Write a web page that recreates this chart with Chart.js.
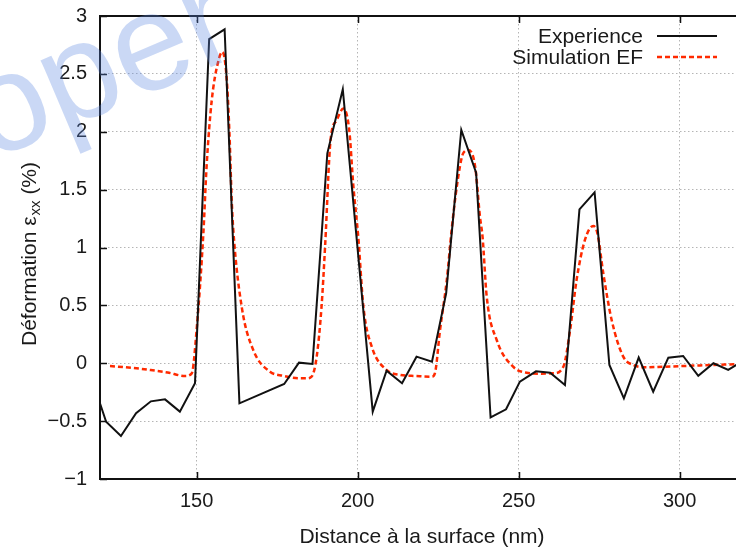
<!DOCTYPE html>
<html><head><meta charset="utf-8">
<script src="https://cdn.jsdelivr.net/npm/chart.js@4/dist/chart.umd.min.js"></script>
<style>
html,body{margin:0;padding:0;overflow:hidden;background:#fff;width:736px;height:548px}
#wrap{position:absolute;left:0;top:0;width:760px;height:548px}
</style>
</head><body><div id="wrap"><canvas id="c"></canvas></div>
<script>
// ---- data ----
const expX = [117.3,121.9,126.5,131.2,135.8,140.2,144.8,149.5,153.9,158.7,163.3,177.2,181.8,186.0,190.6,195.4,204.7,209.0,213.8,218.3,223.1,227.5,232.2,236.8,241.3,246.1,250.4,255.4,259.8,264.4,268.9,273.6,278.2,282.7,287.3,291.8,296.5,301.1,305.8,310.5,315.1,319.7];
const expY = [-0.12,-0.505,-0.628,-0.432,-0.329,-0.312,-0.418,-0.173,2.80,2.885,-0.346,-0.179,0.005,-0.006,1.814,2.367,-0.418,-0.064,-0.173,0.057,0.013,0.604,2.015,1.646,-0.467,-0.398,-0.159,-0.070,-0.082,-0.188,1.330,1.477,-0.015,-0.303,0.049,-0.246,0.048,0.063,-0.108,0.0,-0.058,0.02];
const simX = [123.1,130,135.5,141,146.4,148.5,150.0,152.1,153.1,154.7,156.7,158.0,159.3,160.2,160.9,161.4,164.0,167.6,172.8,176.9,182.1,184.2,185.7,187.3,188.8,189.9,191.6,193.5,195.6,197.4,198.7,200.2,201.8,204.4,209.0,213.2,218,223.0,224.0,225.6,227.7,229.2,230.8,232.8,234.4,236.5,238.0,238.8,240.1,243.2,248.3,252.5,257,260.8,263.9,266.0,268.0,270.6,273.2,274.5,276.3,278.9,282.5,285.6,289.7,295,301.1,310,317.5,322];
const simY = [-0.024,-0.04,-0.058,-0.08,-0.110,-0.087,0.287,1.123,1.70,2.27,2.605,2.69,2.476,1.987,1.41,1.15,0.489,0.114,-0.073,-0.108,-0.13,-0.130,-0.116,0.057,0.489,1.007,1.929,2.10,2.20,2.015,1.525,1.093,0.489,0.143,-0.058,-0.101,-0.11,-0.116,-0.087,0.287,0.719,1.15,1.525,1.814,1.842,1.70,1.266,1.093,0.575,0.201,-0.03,-0.082,-0.09,-0.087,-0.03,0.287,0.719,1.065,1.186,1.12,0.777,0.374,0.057,-0.015,-0.035,-0.03,-0.024,-0.015,-0.009,-0.005];
const xTicks = [150,200,250,300];
const yTicks = [-1,-0.5,0,0.5,1,1.5,2,2.5,3];
const seriesLabels = ['Experience','Simulation EF'];
const xTitle = 'Distance à la surface (nm)';
const yTitleParts = ['Déformation ε','xx',' (%)'];
const watermark = 'oper';

const FONT = '"Liberation Sans", Arial, sans-serif';
const TXT = '#1a1a1a';

const toPts = (xs, ys) => xs.map((x,i)=>({x, y: ys[i]}));

const framePlugin = {
  id: 'frame',
  beforeDatasetsDraw(chart){
    const {ctx, chartArea:a, scales:{x,y}} = chart;
    ctx.save();
    ctx.setLineDash([]);
    ctx.strokeStyle = '#111';
    ctx.lineWidth = 1.5;
    ctx.beginPath();
    xTicks.forEach(v=>{
      const px = Math.round(x.getPixelForValue(v))+0.5;
      ctx.moveTo(px,a.bottom); ctx.lineTo(px,a.bottom-7);
      ctx.moveTo(px,a.top); ctx.lineTo(px,a.top+7);
    });
    yTicks.forEach(v=>{
      const py = Math.round(y.getPixelForValue(v))+0.5;
      ctx.moveTo(a.left,py); ctx.lineTo(a.left+7,py);
      ctx.moveTo(a.right,py); ctx.lineTo(a.right-7,py);
    });
    ctx.stroke();
    ctx.lineWidth = 2;
    ctx.strokeRect(a.left, a.top, a.right-a.left, a.bottom-a.top);
    ctx.restore();
  },
  afterDatasetsDraw(chart){
    const {ctx, chartArea:a} = chart;
    ctx.save();
    ctx.font = '21px '+FONT;
    ctx.textAlign = 'right';
    ctx.textBaseline = 'middle';
    chart.data.datasets.forEach((ds,i)=>{
      const yy = a.top + 20 + i*21;
      ctx.fillStyle = TXT;
      ctx.fillText(ds.label, a.right-101, yy+1);
      ctx.strokeStyle = ds.borderColor;
      ctx.lineWidth = ds.borderWidth;
      ctx.setLineDash(ds.borderDash || []);
      ctx.beginPath();
      ctx.moveTo(a.right-87, yy); ctx.lineTo(a.right-27, yy);
      ctx.stroke();
    });
    ctx.restore();
  },
  afterDraw(chart){
    const {ctx, chartArea:a} = chart;
    ctx.save();
    // y-axis title with subscript
    const cy = (a.top+a.bottom)/2 + 7, cx = 30;
    ctx.translate(cx, cy);
    ctx.rotate(-Math.PI/2);
    ctx.fillStyle = TXT;
    ctx.textBaseline = 'middle';
    ctx.textAlign = 'left';
    const fBig = '21px '+FONT, fSmall = '15px '+FONT;
    ctx.font = fBig; const w1 = ctx.measureText(yTitleParts[0]).width; const w3 = ctx.measureText(yTitleParts[2]).width;
    ctx.font = fSmall; const w2 = ctx.measureText(yTitleParts[1]).width;
    let sx = -(w1+w2+w3)/2;
    ctx.font = fBig; ctx.fillText(yTitleParts[0], sx, 0); sx += w1;
    ctx.font = fSmall; ctx.fillText(yTitleParts[1], sx+1, 6); sx += w2+1;
    ctx.font = fBig; ctx.fillText(yTitleParts[2], sx, 0);
    ctx.restore();
    // watermark
    ctx.save();
    ctx.translate(-10,161);
    ctx.rotate(-23*Math.PI/180);
    ctx.font = '138px '+FONT;
    ctx.fillStyle = 'rgba(90,135,225,0.32)';
    ctx.textBaseline = 'alphabetic';
    ctx.fillText(watermark, 0, 0);
    ctx.restore();
  }
};

new Chart(document.getElementById('c'), {
  type: 'line',
  data: {
    datasets: [
      { label: seriesLabels[0], data: toPts(expX, expY), borderColor: '#111111', borderWidth: 2,
        pointRadius: 0, tension: 0, fill: false },
      { label: seriesLabels[1], data: toPts(simX, simY), borderColor: '#ff2a00', borderWidth: 2.5,
        borderDash: [5,3], pointRadius: 0, cubicInterpolationMode: 'monotone', fill: false }
    ]
  },
  options: {
    responsive: true, maintainAspectRatio: false, animation: false,
    layout: { padding: { left: 0, top: 16, right: 16, bottom: 0 } },
    plugins: { legend: { display: false }, tooltip: { enabled: false } },
    scales: {
      x: {
        type: 'linear', min: 120, max: 320,
        afterBuildTicks: s => { s.ticks = xTicks.map(v=>({value:v})); },
        afterFit: s => { s.height = 69; },
        grid: { color: '#b5b5b5', lineWidth: 1, drawTicks: false },
        border: { display: false, dash: [1.5,2.5] },
        ticks: { padding: 10, color: TXT, font: { family: FONT, size: 20 }, maxRotation: 0 },
        title: { display: true, text: xTitle, color: TXT, font: { family: FONT, size: 21 }, padding: { top: 0, bottom: -2 } }
      },
      y: {
        type: 'linear', min: -1, max: 3,
        afterBuildTicks: s => { s.ticks = yTicks.map(v=>({value:v})); },
        afterFit: s => { s.width = 100; s.paddingTop = 0; s.paddingBottom = 0; },
        grid: { color: '#b5b5b5', lineWidth: 1, drawTicks: false },
        border: { display: false, dash: [1.5,2.5] },
        ticks: { padding: 13, color: TXT, font: { family: FONT, size: 20 },
          callback: v => v < 0 ? '\u2212' + Math.abs(v) : String(v) }
      }
    }
  },
  plugins: [framePlugin]
});
</script>
</body></html>
